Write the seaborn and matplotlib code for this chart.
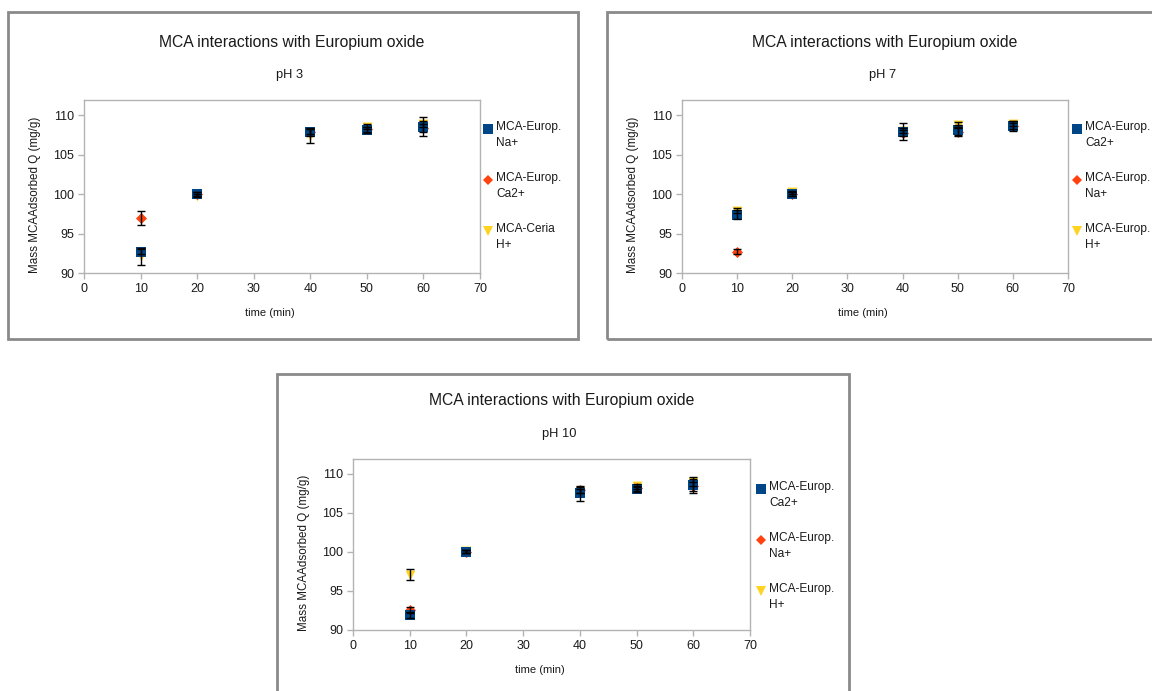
import numpy as np
import pandas as pd
import matplotlib
matplotlib.use("Agg")
import matplotlib.pyplot as plt
from matplotlib.lines import Line2D
from matplotlib.patches import Rectangle
import seaborn as sns

# ---- data ---------------------------------------------------------------
time_min = [10, 20, 40, 50, 60]

# pH 3
ph3_na = [92.7, 100.0, 107.8, 108.1, 108.5]
ph3_na_err = [0.3, 0.2, 0.4, 0.4, 1.2]
ph3_ca = [97.0, 100.0, 107.9, 108.2, 108.3]
ph3_ca_err = [0.9, 0.3, 0.3, 0.3, 0.5]
ph3_h = [92.1, 99.8, 107.4, 108.5, 108.9]
ph3_h_err = [1.1, 0.2, 0.9, 0.3, 0.4]

# pH 7
ph7_ca = [97.4, 100.0, 107.9, 108.1, 108.6]
ph7_ca_err = [0.6, 0.2, 1.1, 0.6, 0.4]
ph7_na = [92.7, 100.0, 107.7, 107.9, 108.6]
ph7_na_err = [0.3, 0.2, 0.4, 0.6, 0.6]
ph7_h = [97.9, 100.2, 108.0, 108.7, 108.9]
ph7_h_err = [0.3, 0.2, 0.3, 0.4, 0.3]

# pH 10
ph10_ca = [91.9, 100.0, 107.5, 108.0, 108.6]
ph10_ca_err = [0.3, 0.2, 1.0, 0.3, 1.0]
ph10_na = [92.6, 100.0, 107.9, 108.15, 108.4]
ph10_na_err = [0.3, 0.2, 0.4, 0.3, 0.6]
ph10_h = [97.1, 100.1, 107.8, 108.4, 108.9]
ph10_h_err = [0.65, 0.2, 0.3, 0.3, 0.4]

x_ticks = [0, 10, 20, 30, 40, 50, 60, 70]
y_ticks = [90, 95, 100, 105, 110]

title_text = "MCA interactions with Europium oxide"
xlabel_text = "time (min)"
ylabel_text = "Mass MCAAdsorbed Q (mg/g)"

BLUE, RED, YELLOW = "#004586", "#ff420e", "#ffd320"

# (subtitle, [(label, values, errors, colour, marker), ...]) ; listed in legend order
panels = [
    ("pH 3", [("MCA-Europ.\nNa+", ph3_na, ph3_na_err, BLUE, "s"),
              ("MCA-Europ.\nCa2+", ph3_ca, ph3_ca_err, RED, "D"),
              ("MCA-Ceria\nH+", ph3_h, ph3_h_err, YELLOW, "v")]),
    ("pH 7", [("MCA-Europ.\nCa2+", ph7_ca, ph7_ca_err, BLUE, "s"),
              ("MCA-Europ.\nNa+", ph7_na, ph7_na_err, RED, "D"),
              ("MCA-Europ.\nH+", ph7_h, ph7_h_err, YELLOW, "v")]),
    ("pH 10", [("MCA-Europ.\nCa2+", ph10_ca, ph10_ca_err, BLUE, "s"),
               ("MCA-Europ.\nNa+", ph10_na, ph10_na_err, RED, "D"),
               ("MCA-Europ.\nH+", ph10_h, ph10_h_err, YELLOW, "v")]),
]

# ---- layout (pixels) ----------------------------------------------------
W, H = 1152, 691
sns.set_theme(style="white")
plt.rcParams["font.family"] = ["Liberation Sans", "DejaVu Sans"]

fig = plt.figure(figsize=(W / 100, H / 100), dpi=100)
fig.patch.set_facecolor("white")


def fx(px):
    return px / W


def fy(py):
    return 1 - py / H


# frame box, plot area box, legend position
layouts = [
    dict(box=(8, 12, 578, 339), area=(84, 100, 480, 273), leg_x=488, leg_y=129),
    dict(box=(607, 12, 1170, 339), area=(682, 100, 1068, 273), leg_x=1077, leg_y=129),
    dict(box=(277, 374, 849, 710), area=(353, 459, 750, 630), leg_x=761, leg_y=489),
]

for (subtitle, series), lay in zip(panels, layouts):
    bx0, by0, bx1, by1 = lay["box"]
    fig.patches.append(Rectangle((fx(bx0), fy(by1)), fx(bx1 - bx0), (by1 - by0) / H,
                                 transform=fig.transFigure, fill=False,
                                 edgecolor="#8a8a8a", linewidth=2.0, zorder=0))
    ax0, ay0, ax1, ay1 = lay["area"]
    ax = fig.add_axes([fx(ax0), fy(ay1), fx(ax1 - ax0), (ay1 - ay0) / H])

    # long-form table for seaborn
    rows = []
    for label, vals, errs, col, mk in series:
        for t, v, e in zip(time_min, vals, errs):
            rows.append(dict(time=t, value=v, err=e, series=label))
    df = pd.DataFrame(rows)

    sizes = {"s": 42, "D": 32, "v": 50}
    # yellow first, then red, blue on top
    for idx in (2, 1, 0):
        label, vals, errs, col, mk = series[idx]
        sub = df[df["series"] == label]
        sns.scatterplot(data=sub, x="time", y="value", color=col, marker=mk,
                        s=sizes[mk], linewidth=0, ax=ax, legend=False, zorder=3 + (2 - idx))
    for label, vals, errs, col, mk in series:
        ax.errorbar(time_min, vals, yerr=errs, fmt="none", ecolor="black",
                    elinewidth=1.0, capsize=3.2, capthick=1.0, zorder=8)

    ax.set_xlim(0, 70)
    ax.set_ylim(90, 111.9)
    ax.set_xticks(x_ticks)
    ax.set_yticks(y_ticks)
    ax.set_xlabel("")
    ax.set_ylabel("")
    for sp in ax.spines.values():
        sp.set_color("#b3b3b3")
        sp.set_linewidth(1.0)
    ax.tick_params(axis="both", which="major", direction="out", length=4, width=1,
                   color="#b3b3b3", labelsize=9.0, labelcolor="#1a1a1a", pad=3,
                   bottom=True, left=True)

    # titles and axis labels
    cx = (ax0 + ax1) / 2
    fig.text(fx(cx + 10), fy(ay0 - 58), title_text, ha="center", va="center",
             fontsize=11.3, color="#1a1a1a")
    fig.text(fx(cx + 8), fy(ay0 - 25), subtitle, ha="center", va="center",
             fontsize=9.3, color="#1a1a1a")
    fig.text(fx(cx - 12), fy(ay1 + 40), xlabel_text, ha="center", va="center",
             fontsize=8.0, color="#1a1a1a")
    fig.text(fx(ax0 - 49), fy((ay0 + ay1) / 2 + 8), ylabel_text, ha="center", va="center",
             rotation=90, fontsize=8.4, color="#1a1a1a")

    # legend
    lx, ly = lay["leg_x"], lay["leg_y"]
    for i, (label, vals, errs, col, mk) in enumerate(series):
        y = ly + i * 51
        ms = {"s": 6.5, "D": 5.5, "v": 7.5}[mk]
        fig.add_artist(Line2D([fx(lx)], [fy(y)], marker=mk, color=col, markersize=ms,
                              markeredgewidth=0, linestyle="none",
                              transform=fig.transFigure))
        fig.text(fx(lx + 8), fy(y - 8), label, ha="left", va="top",
                 fontsize=8.6, color="#1a1a1a", linespacing=1.4)

fig.savefig("out.png", dpi=100, facecolor="white")
